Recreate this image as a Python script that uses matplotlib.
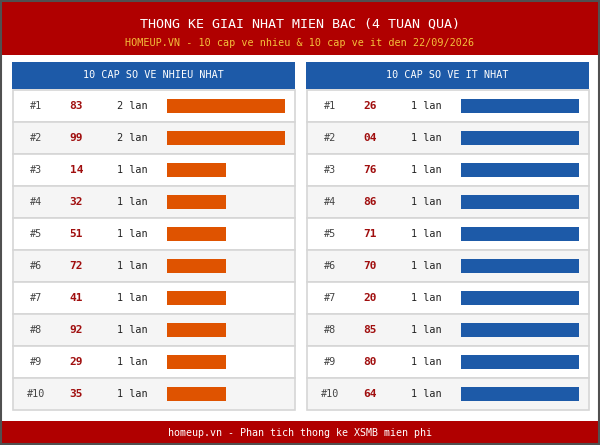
import matplotlib
matplotlib.use("Agg")
import matplotlib.pyplot as plt
from matplotlib.patches import Rectangle

# ---- data ----
title = "THONG KE GIAI NHAT MIEN BAC (4 TUAN QUA)"
subtitle = "HOMEUP.VN - 10 cap ve nhieu & 10 cap ve it den 22/09/2026"
footer = "homeup.vn - Phan tich thong ke XSMB mien phi"

left_title = "10 CAP SO VE NHIEU NHAT"
left_pairs = ["83", "99", "14", "32", "51", "72", "41", "92", "29", "35"]
left_counts = [2, 2, 1, 1, 1, 1, 1, 1, 1, 1]

right_title = "10 CAP SO VE IT NHAT"
right_pairs = ["26", "04", "76", "86", "71", "70", "20", "85", "80", "64"]
right_counts = [1, 1, 1, 1, 1, 1, 1, 1, 1, 1]

ranks = ["#%d" % (i + 1) for i in range(10)]

# ---- style ----
RED = "#b00000"
BLUE = "#1d5aa8"
ORANGE = "#df5300"
NUMRED = "#a00e0e"
YELLOW = "#f4c03c"
FONT = "DejaVu Sans Mono"

W, H = 600, 445
fig = plt.figure(figsize=(W / 100, H / 100), dpi=100)
ax = fig.add_axes([0, 0, 1, 1])
ax.set_xlim(0, W)
ax.set_ylim(H, 0)
ax.axis("off")

# background and frame
ax.add_patch(Rectangle((0, 0), W, H, facecolor="white", edgecolor="none"))
ax.add_patch(Rectangle((0, 0), W, 55, facecolor=RED, edgecolor="none"))
ax.add_patch(Rectangle((0, 421), W, 24, facecolor=RED, edgecolor="none"))
ax.add_patch(Rectangle((0.75, 0.75), W - 1.5, H - 1.5, facecolor="none",
                       edgecolor="#505050", linewidth=1.5))

ax.text(W / 2, 24, title, color="white", ha="center", va="center",
        fontsize=9.6, family=FONT)
ax.text(W / 2, 43.5, subtitle, color=YELLOW, ha="center", va="center",
        fontsize=7.3, family=FONT)
ax.text(W / 2, 433.5, footer, color="white", ha="center", va="center",
        fontsize=7.2, family=FONT)

ROW_TOP = 90
ROW_H = 32
BAR_MAX = 118


def panel(x0, head, pairs, counts, color):
    pw = 283
    ax.add_patch(Rectangle((x0, 62), pw, 27, facecolor=BLUE, edgecolor="none"))
    ax.text(x0 + pw / 2, 75.5, head, color="white", ha="center", va="center",
            fontsize=7.3, family=FONT)
    cmax = max(counts)
    ys = []
    for i in range(len(pairs)):
        y = ROW_TOP + i * ROW_H
        fc = "white" if i % 2 == 0 else "#f5f5f5"
        ax.add_patch(Rectangle((x0 + 0.5, y), pw - 1, ROW_H - 0.5, facecolor=fc,
                               edgecolor="#d6d6d6", linewidth=1.2))
        yc = y + ROW_H / 2
        ys.append(yc)
        ax.text(x0 + 24.5, yc, ranks[i], color="#444444", ha="center",
                va="center", fontsize=7.3, family=FONT)
        ax.text(x0 + 64.5, yc, pairs[i], color=NUMRED, ha="center",
                va="center", fontsize=8, family=FONT, fontweight="bold")
        ax.text(x0 + 105, yc, "%d lan" % counts[i], color="#222222",
                ha="left", va="center", fontsize=7.3, family=FONT)
    widths = [c / cmax * BAR_MAX for c in counts]
    ax.barh(ys, widths, left=x0 + 155, height=13.5, color=color, zorder=3)


panel(12, left_title, left_pairs, left_counts, ORANGE)
panel(306, right_title, right_pairs, right_counts, BLUE)

fig.savefig("out.png", dpi=100)
